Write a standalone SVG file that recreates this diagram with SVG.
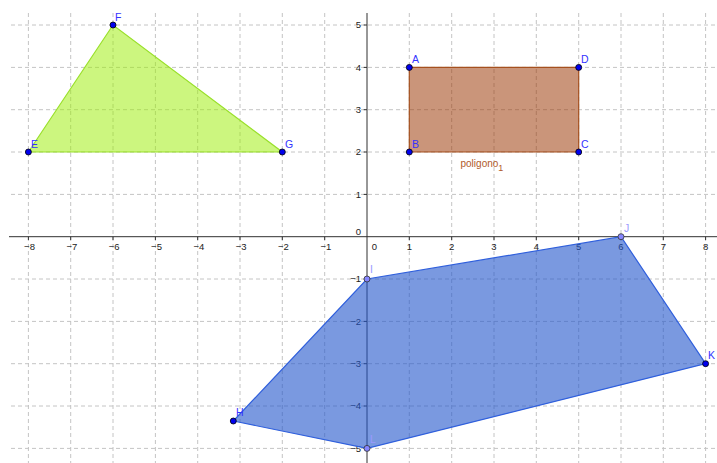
<svg xmlns="http://www.w3.org/2000/svg" width="717" height="463" viewBox="0 0 717 463">
<style>
.grid line{stroke:#c4c4c4;stroke-width:1;stroke-dasharray:4 3;}
.axis{stroke:#303030;stroke-width:1;fill:none;}
.tick{stroke:#303030;stroke-width:1;}
.al{font-family:"Liberation Sans",Arial,sans-serif;font-size:9.5px;fill:#222;}
.pl{font-family:"Liberation Sans",Arial,sans-serif;font-size:10.5px;fill:#3333ff;}
.pl2{font-family:"Liberation Sans",Arial,sans-serif;font-size:10.5px;fill:#9a9aff;}
.pt{fill:#0000ee;stroke:#000;stroke-width:0.8;}
.pt2{fill:#8585ff;stroke:#333;stroke-width:0.8;}
</style>
<rect width="717" height="463" fill="#fff"/>
<g class="grid">
<line x1="28.4" y1="13" x2="28.4" y2="463"/>
<line x1="70.7" y1="13" x2="70.7" y2="463"/>
<line x1="113" y1="13" x2="113" y2="463"/>
<line x1="155.4" y1="13" x2="155.4" y2="463"/>
<line x1="197.7" y1="13" x2="197.7" y2="463"/>
<line x1="240" y1="13" x2="240" y2="463"/>
<line x1="282.3" y1="13" x2="282.3" y2="463"/>
<line x1="324.7" y1="13" x2="324.7" y2="463"/>
<line x1="409.3" y1="13" x2="409.3" y2="463"/>
<line x1="451.7" y1="13" x2="451.7" y2="463"/>
<line x1="494" y1="13" x2="494" y2="463"/>
<line x1="536.3" y1="13" x2="536.3" y2="463"/>
<line x1="578.7" y1="13" x2="578.7" y2="463"/>
<line x1="621" y1="13" x2="621" y2="463"/>
<line x1="663.3" y1="13" x2="663.3" y2="463"/>
<line x1="705.6" y1="13" x2="705.6" y2="463"/>
<line x1="11" y1="25" x2="717" y2="25"/>
<line x1="11" y1="67.4" x2="717" y2="67.4"/>
<line x1="11" y1="109.7" x2="717" y2="109.7"/>
<line x1="11" y1="152" x2="717" y2="152"/>
<line x1="11" y1="194.4" x2="717" y2="194.4"/>
<line x1="11" y1="279" x2="717" y2="279"/>
<line x1="11" y1="321.4" x2="717" y2="321.4"/>
<line x1="11" y1="363.7" x2="717" y2="363.7"/>
<line x1="11" y1="406" x2="717" y2="406"/>
<line x1="11" y1="448.4" x2="717" y2="448.4"/>
</g>
<g id="axes">
<line class="axis" x1="9" y1="236.7" x2="717" y2="236.7"/>
<line class="axis" x1="367" y1="13" x2="367" y2="463"/>
<g class="tick">
<line x1="28.4" y1="236.7" x2="28.4" y2="240"/>
<line x1="70.7" y1="236.7" x2="70.7" y2="240"/>
<line x1="113" y1="236.7" x2="113" y2="240"/>
<line x1="155.4" y1="236.7" x2="155.4" y2="240"/>
<line x1="197.7" y1="236.7" x2="197.7" y2="240"/>
<line x1="240" y1="236.7" x2="240" y2="240"/>
<line x1="282.3" y1="236.7" x2="282.3" y2="240"/>
<line x1="324.7" y1="236.7" x2="324.7" y2="240"/>
<line x1="409.3" y1="236.7" x2="409.3" y2="240"/>
<line x1="451.7" y1="236.7" x2="451.7" y2="240"/>
<line x1="494" y1="236.7" x2="494" y2="240"/>
<line x1="536.3" y1="236.7" x2="536.3" y2="240"/>
<line x1="578.7" y1="236.7" x2="578.7" y2="240"/>
<line x1="621" y1="236.7" x2="621" y2="240"/>
<line x1="663.3" y1="236.7" x2="663.3" y2="240"/>
<line x1="705.6" y1="236.7" x2="705.6" y2="240"/>
<line x1="363.7" y1="25" x2="367" y2="25"/>
<line x1="363.7" y1="67.4" x2="367" y2="67.4"/>
<line x1="363.7" y1="109.7" x2="367" y2="109.7"/>
<line x1="363.7" y1="152" x2="367" y2="152"/>
<line x1="363.7" y1="194.4" x2="367" y2="194.4"/>
<line x1="363.7" y1="279" x2="367" y2="279"/>
<line x1="363.7" y1="321.4" x2="367" y2="321.4"/>
<line x1="363.7" y1="363.7" x2="367" y2="363.7"/>
<line x1="363.7" y1="406" x2="367" y2="406"/>
<line x1="363.7" y1="448.4" x2="367" y2="448.4"/>
</g>
<g class="al" text-anchor="middle">
<text x="29.5" y="249.5">−8</text>
<text x="71.8" y="249.5">−7</text>
<text x="114.1" y="249.5">−6</text>
<text x="156.5" y="249.5">−5</text>
<text x="198.8" y="249.5">−4</text>
<text x="241.1" y="249.5">−3</text>
<text x="283.4" y="249.5">−2</text>
<text x="325.8" y="249.5">−1</text>
<text x="374.5" y="249.5">0</text>
<text x="409.3" y="249.5">1</text>
<text x="451.7" y="249.5">2</text>
<text x="494" y="249.5">3</text>
<text x="536.3" y="249.5">4</text>
<text x="578.7" y="249.5">5</text>
<text x="621" y="249.5">6</text>
<text x="663.3" y="249.5">7</text>
<text x="705.6" y="249.5">8</text>
</g>
<g class="al" text-anchor="end">
<text x="361" y="28.4">5</text>
<text x="361" y="70.8">4</text>
<text x="361" y="113.1">3</text>
<text x="361" y="155.4">2</text>
<text x="361" y="197.8">1</text>
<text x="361" y="234.5">0</text>
<text x="361" y="282.4">−1</text>
<text x="361" y="324.8">−2</text>
<text x="361" y="367.1">−3</text>
<text x="361" y="409.4">−4</text>
<text x="361" y="451.8">−5</text>
</g>
</g>
<g id="triangle-EFG">
<polygon points="28.4,152 113,25 282.3,152" fill="#99ee00" fill-opacity="0.5" stroke="#99e02a" stroke-width="1.2"/>
</g>
<g id="poligono1">
<polygon points="409.3,67.4 409.3,152 578.7,152 578.7,67.4" fill="#993300" fill-opacity="0.52" stroke="#a5501e" stroke-width="1.2"/>
<text x="460.5" y="167.3" font-family="'Liberation Sans',Arial,sans-serif" font-size="10" fill="#b05a2a">poligono<tspan font-size="9" dy="3.5">1</tspan></text>
</g>
<g id="pentagon-HIJKL">
<polygon points="233.3,421 367,279 621,236.7 705.6,363.7 367,448.4" fill="#2255cc" fill-opacity="0.6" stroke="#2f5fdc" stroke-width="1.2"/>
</g>
<g id="E"><circle class="pt" cx="28.4" cy="152" r="3"/><text class="pl" x="31" y="148">E</text></g>
<g id="F"><circle class="pt" cx="113" cy="25" r="3"/><text class="pl" x="115" y="21">F</text></g>
<g id="G"><circle class="pt" cx="282.3" cy="152" r="3"/><text class="pl" x="285" y="148">G</text></g>
<g id="A"><circle class="pt" cx="409.3" cy="67.4" r="3"/><text class="pl" x="412" y="63">A</text></g>
<g id="B"><circle class="pt" cx="409.3" cy="152" r="3"/><text class="pl" x="412" y="148">B</text></g>
<g id="C"><circle class="pt" cx="578.7" cy="152" r="3"/><text class="pl" x="581" y="148">C</text></g>
<g id="D"><circle class="pt" cx="578.7" cy="67.4" r="3"/><text class="pl" x="581" y="63">D</text></g>
<g id="H"><circle class="pt" cx="233.3" cy="421" r="3"/><text class="pl" x="236" y="416">H</text></g>
<g id="I"><circle class="pt2" cx="367" cy="279" r="3"/><text class="pl2" x="370" y="273">I</text></g>
<g id="J"><circle class="pt2" cx="621" cy="236.7" r="3"/><text class="pl2" x="624" y="232">J</text></g>
<g id="K"><circle class="pt" cx="705.6" cy="363.7" r="3"/><text class="pl" x="708" y="359">K</text></g>
<g id="L"><circle class="pt2" cx="367" cy="448.4" r="3"/><text class="pl2" x="370" y="443">L</text></g>
</svg>
